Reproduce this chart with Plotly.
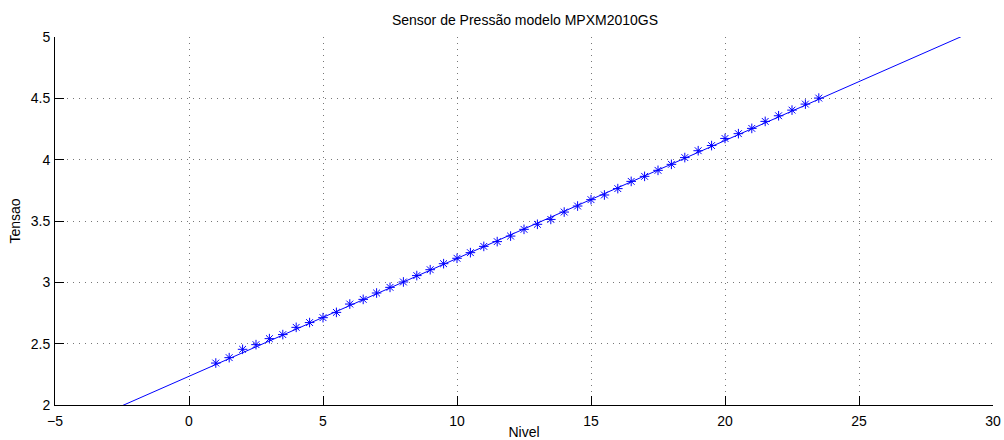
import plotly.graph_objects as go

# Measured level (x) and sensor output voltage (y)
nivel = [1.0, 1.5, 2.0, 2.5, 3.0, 3.5, 4.0, 4.5, 5.0, 5.5, 6.0, 6.5, 7.0, 7.5,
         8.0, 8.5, 9.0, 9.5, 10.0, 10.5, 11.0, 11.5, 12.0, 12.5, 13.0, 13.5,
         14.0, 14.5, 15.0, 15.5, 16.0, 16.5, 17.0, 17.5, 18.0, 18.5, 19.0,
         19.5, 20.0, 20.5, 21.0, 21.5, 22.0, 22.5, 23.0, 23.5]
tensao = [2.342, 2.386, 2.454, 2.492, 2.541, 2.574, 2.633, 2.672, 2.712, 2.755,
          2.823, 2.861, 2.913, 2.959, 3.003, 3.055, 3.103, 3.152, 3.196, 3.242,
          3.293, 3.332, 3.377, 3.432, 3.473, 3.513, 3.573, 3.622, 3.674, 3.712,
          3.764, 3.823, 3.864, 3.913, 3.962, 4.017, 4.073, 4.115, 4.173, 4.212,
          4.255, 4.312, 4.358, 4.404, 4.453, 4.502]

# Linear fit coefficients and evaluation range
fit_slope = 0.0961
fit_intercept = 2.234
fit_x = [-5.0, 30.0]
fit_y = [fit_intercept + fit_slope * v for v in fit_x]

x_ticks = [-5, 0, 5, 10, 15, 20, 25, 30]
y_ticks = [2, 2.5, 3, 3.5, 4, 4.5, 5]

blue = "#0000ff"
font = "Liberation Sans, Arial, Helvetica, sans-serif"

fig = go.Figure()
fig.add_trace(go.Scatter(x=fit_x, y=fit_y, mode="lines",
                         line=dict(color=blue, width=1), showlegend=False))
fig.add_trace(go.Scatter(x=nivel, y=tensao, mode="markers",
                         marker=dict(symbol="asterisk-open", size=8,
                                     color=blue, line=dict(color=blue, width=1)),
                         showlegend=False))

axis_common = dict(
    showline=True, linecolor="black", linewidth=1, mirror=False,
    ticks="inside", ticklen=9, tickcolor="black", tickwidth=1,
    showgrid=True, gridcolor="#777777", griddash="1px,5px", gridwidth=1,
    zeroline=False, automargin=False,
    tickfont=dict(family=font, size=14, color="black"),
)

fig.update_xaxes(range=[-5, 30], tickvals=x_ticks, ticklabelstandoff=3,
                 title=dict(text="Nivel", font=dict(family=font, size=14, color="black"),
                            standoff=2),
                 **axis_common)
fig.update_yaxes(range=[2, 5], tickvals=y_ticks, ticklabelstandoff=1,
                 title=dict(text="Tensao", font=dict(family=font, size=14, color="black"),
                            standoff=6),
                 **axis_common)

fig.update_layout(
    width=1004, height=440,
    margin=dict(l=55, r=11, t=37, b=35),
    paper_bgcolor="white", plot_bgcolor="white",
    title=dict(text="Sensor de Pressão modelo MPXM2010GS",
               font=dict(family=font, size=14, color="black"),
               x=0.5229, xanchor="center", y=0.955, yanchor="middle"),
)

fig.write_html("out.html")
